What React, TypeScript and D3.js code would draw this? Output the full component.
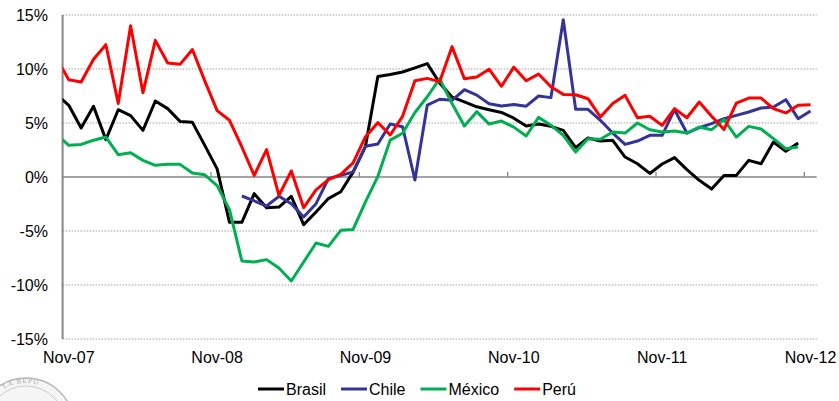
import React from "react";
import * as d3 from "d3";

// Categories: monthly, Oct-07 (partly clipped at the left edge) through Nov-12
const startMonth = new Date(2007, 9, 1); // Oct-07
const endMonth = new Date(2012, 10, 1); // Nov-12
const months: Date[] = d3.timeMonths(startMonth, d3.timeMonth.offset(endMonth, 1));

const tickLabels = ["Nov-07", "Nov-08", "Nov-09", "Nov-10", "Nov-11", "Nov-12"];
const yTicks = [15, 10, 5, 0, -5, -10, -15];

const seriesNames = ["Brasil", "Chile", "México", "Perú"];
const seriesColors = ["#000000", "#333399", "#00B050", "#FF0000"];

const brasil: (number | null)[] = [
  7.64, 6.64, 4.54, 6.54, 3.46, 6.23, 5.68, 4.32, 7.04, 6.33, 5.15, 5.06, 2.93,
  0.75, -4.2, -4.2, -1.54, -2.84, -2.78, -1.79, -4.41, -3.24, -2.0, -1.36, 0.45,
  2.84, 9.3, 9.5, 9.72, 10.1, 10.5, 8.7, 7.4, 6.95, 6.5, 6.23, 5.98, 5.45, 4.72,
  4.9, 4.69, 4.32, 2.72, 3.61, 3.33, 3.4, 1.85, 1.23, 0.33, 1.2, 1.8, 0.68,
  -0.31, -1.12, 0.15, 0.15, 1.54, 1.23, 3.24, 2.38, 3.15, null,
];

const chile: (number | null)[] = [
  null, null, null, null, null, null, null, null, null, null, null, null, null,
  null, null, -1.76, -2.22, -2.69, -1.79, -2.47, -3.7, -2.47, -0.15, 0.15, 0.46,
  2.84, 3.05, 4.9, 4.65, -0.28, 6.66, 7.2, 7.1, 8.08, 7.58, 6.78, 6.57, 6.72,
  6.56, 7.5, 7.35, 14.57, 6.27, 6.27, 5.25, 4.07, 3.02, 3.33, 3.86, 3.86, 6.23,
  4.07, 4.57, 4.94, 5.4, 5.71, 6.02, 6.39, 6.48, 7.16, 5.4, 6.11,
];

const mexico: (number | null)[] = [
  3.95, 2.93, 3.02, 3.4, 3.7, 2.07, 2.25, 1.54, 1.08, 1.17, 1.17, 0.37, 0.2,
  -0.8, -3.02, -7.78, -7.87, -7.65, -8.43, -9.63, -7.87, -6.11, -6.42, -4.94,
  -4.85, -2.3, 0.05, 3.42, 4.05, 5.97, 7.43, 9.1, 6.8, 4.73, 6.05, 4.9, 5.18,
  4.62, 3.8, 5.52, 4.8, 3.86, 2.31, 3.55, 3.49, 4.17, 4.07, 5.0, 4.38, 4.17,
  4.26, 4.07, 4.63, 4.38, 5.31, 3.7, 4.69, 4.44, 3.55, 2.62, 2.78, null,
];

const peru: (number | null)[] = [
  11.04, 9.0, 8.8, 10.9, 12.25, 6.8, 14.0, 7.8, 12.65, 10.55, 10.43, 11.8, 8.9,
  6.15, 5.25, 2.78, 0.15, 2.53, -1.7, 0.56, -2.84, -1.2, -0.25, 0.25, 1.3, 3.73,
  5.03, 3.89, 5.62, 8.91, 9.13, 8.83, 12.07, 9.1, 9.26, 9.98, 8.4, 10.17, 8.91,
  9.53, 8.35, 7.65, 7.62, 7.25, 5.56, 6.8, 7.56, 5.49, 5.62, 4.78, 6.33, 5.49,
  6.94, 5.62, 4.41, 6.85, 7.31, 7.31, 6.33, 5.93, 6.64, 6.7,
];

const seriesValues = [brasil, chile, mexico, peru];

const W = 839;
const H = 401;
const plotLeft = 62.6;
const plotRight = 816.7;
const plotTop = 15;
const plotBottom = 339;
const FONT = "'Liberation Sans', Arial, sans-serif";

function measure(text: string): number {
  if (typeof document === "undefined") return text.length * 8;
  const c = document.createElement("canvas").getContext("2d");
  if (!c) return text.length * 8;
  c.font = "16px 'Liberation Sans', Arial, sans-serif";
  return c.measureText(text).width;
}

export default function App() {
  const fmt = d3.timeFormat("%b-%y");
  const nCats = months.length - 1; // visible categories
  const x = d3
    .scaleLinear()
    .domain([-0.5, nCats - 0.5])
    .range([plotLeft, plotRight]);
  const y = d3.scaleLinear().domain([-15, 15]).range([plotBottom, plotTop]);

  // category index: -1 for the first (clipped) month, 0 for Nov-07 ...
  const idx = (i: number) => i - 1;

  const line = d3
    .line<{ i: number; v: number | null }>()
    .defined((d) => d.v !== null)
    .x((d) => x(idx(d.i)))
    .y((d) => y(d.v as number));

  const labelIdx = months
    .map((m, i) => ({ m, i }))
    .filter((d) => tickLabels.includes(fmt(d.m)));

  const yearBounds = labelIdx.map((d) => idx(d.i) - 0.5).filter((v) => v > -0.5);

  // legend layout
  const swatch = 26;
  let lx = 258;
  const legendItems = seriesNames.map((name, k) => {
    const item = { name, color: seriesColors[k], x: lx };
    lx += swatch + 2 + measure(name) + 15;
    return item;
  });
  const legendY = 389;

  return (
    <div style={{ position: "absolute", left: 0, top: 0, width: W, height: H }}>
      <svg width={W} height={H} style={{ display: "block", fontFamily: FONT }}>
        <defs>
          <clipPath id="plotClip">
            <rect x={plotLeft} y={0} width={plotRight - plotLeft} height={H} />
          </clipPath>
        </defs>
        <rect x={0} y={0} width={W} height={H} fill="#ffffff" />

        {/* watermark seal, bottom-left */}
        <g opacity={0.6}>
          <circle cx={26} cy={426} r={48} fill="#f0f0f0" stroke="#8a8a8a" strokeWidth={1.5} />
          <circle cx={26} cy={426} r={40} fill="none" stroke="#a8a8a8" strokeWidth={1} />
          <path id="sealArc" d="M -17 426 A 43 43 0 0 1 69 426" fill="none" />
          <text fontSize={6.5} fill="#666" fontFamily="'DejaVu Serif', serif" letterSpacing={0.8}>
            <textPath href="#sealArc" startOffset="33%">
              LA REPU
            </textPath>
          </text>
        </g>

        {/* gridlines */}
        {yTicks
          .filter((t) => t !== 0)
          .map((t) => (
            <line
              key={"g" + t}
              x1={plotLeft}
              x2={plotRight}
              y1={y(t)}
              y2={y(t)}
              stroke="#9c9c9c"
              strokeWidth={1}
              strokeDasharray="1.5,1.5"
            />
          ))}

        {/* zero axis */}
        <line x1={plotLeft} x2={plotRight} y1={y(0)} y2={y(0)} stroke="#868686" strokeWidth={1.6} />
        {yearBounds.map((b) => (
          <line key={"t" + b} x1={x(b)} x2={x(b)} y1={y(0)} y2={y(0) - 5} stroke="#868686" strokeWidth={1.3} />
        ))}

        {/* left axis */}
        <line x1={plotLeft} x2={plotLeft} y1={plotTop} y2={plotBottom} stroke="#868686" strokeWidth={2} />

        {/* y labels */}
        {yTicks.map((t) => (
          <text key={"y" + t} x={48} y={y(t) + 5.5} textAnchor="end" fontSize={16} fill="#000">
            {`${t}%`}
          </text>
        ))}

        {/* x labels */}
        {labelIdx.map((d) => (
          <text key={"x" + d.i} x={x(idx(d.i))} y={362.5} textAnchor="middle" fontSize={16} fill="#000">
            {fmt(d.m)}
          </text>
        ))}

        {/* series */}
        <g clipPath="url(#plotClip)">
          {seriesValues.map((vals, k) => (
            <path
              key={seriesNames[k]}
              d={line(vals.map((v, i) => ({ i, v }))) || ""}
              fill="none"
              stroke={seriesColors[k]}
              strokeWidth={3}
              strokeLinejoin="round"
              strokeLinecap="butt"
            />
          ))}
        </g>

        {/* legend */}
        {legendItems.map((it) => (
          <g key={it.name}>
            <line x1={it.x} x2={it.x + swatch} y1={legendY} y2={legendY} stroke={it.color} strokeWidth={3} />
            <text x={it.x + swatch + 2} y={legendY + 5.5} fontSize={16} fill="#000">
              {it.name}
            </text>
          </g>
        ))}
      </svg>
    </div>
  );
}
